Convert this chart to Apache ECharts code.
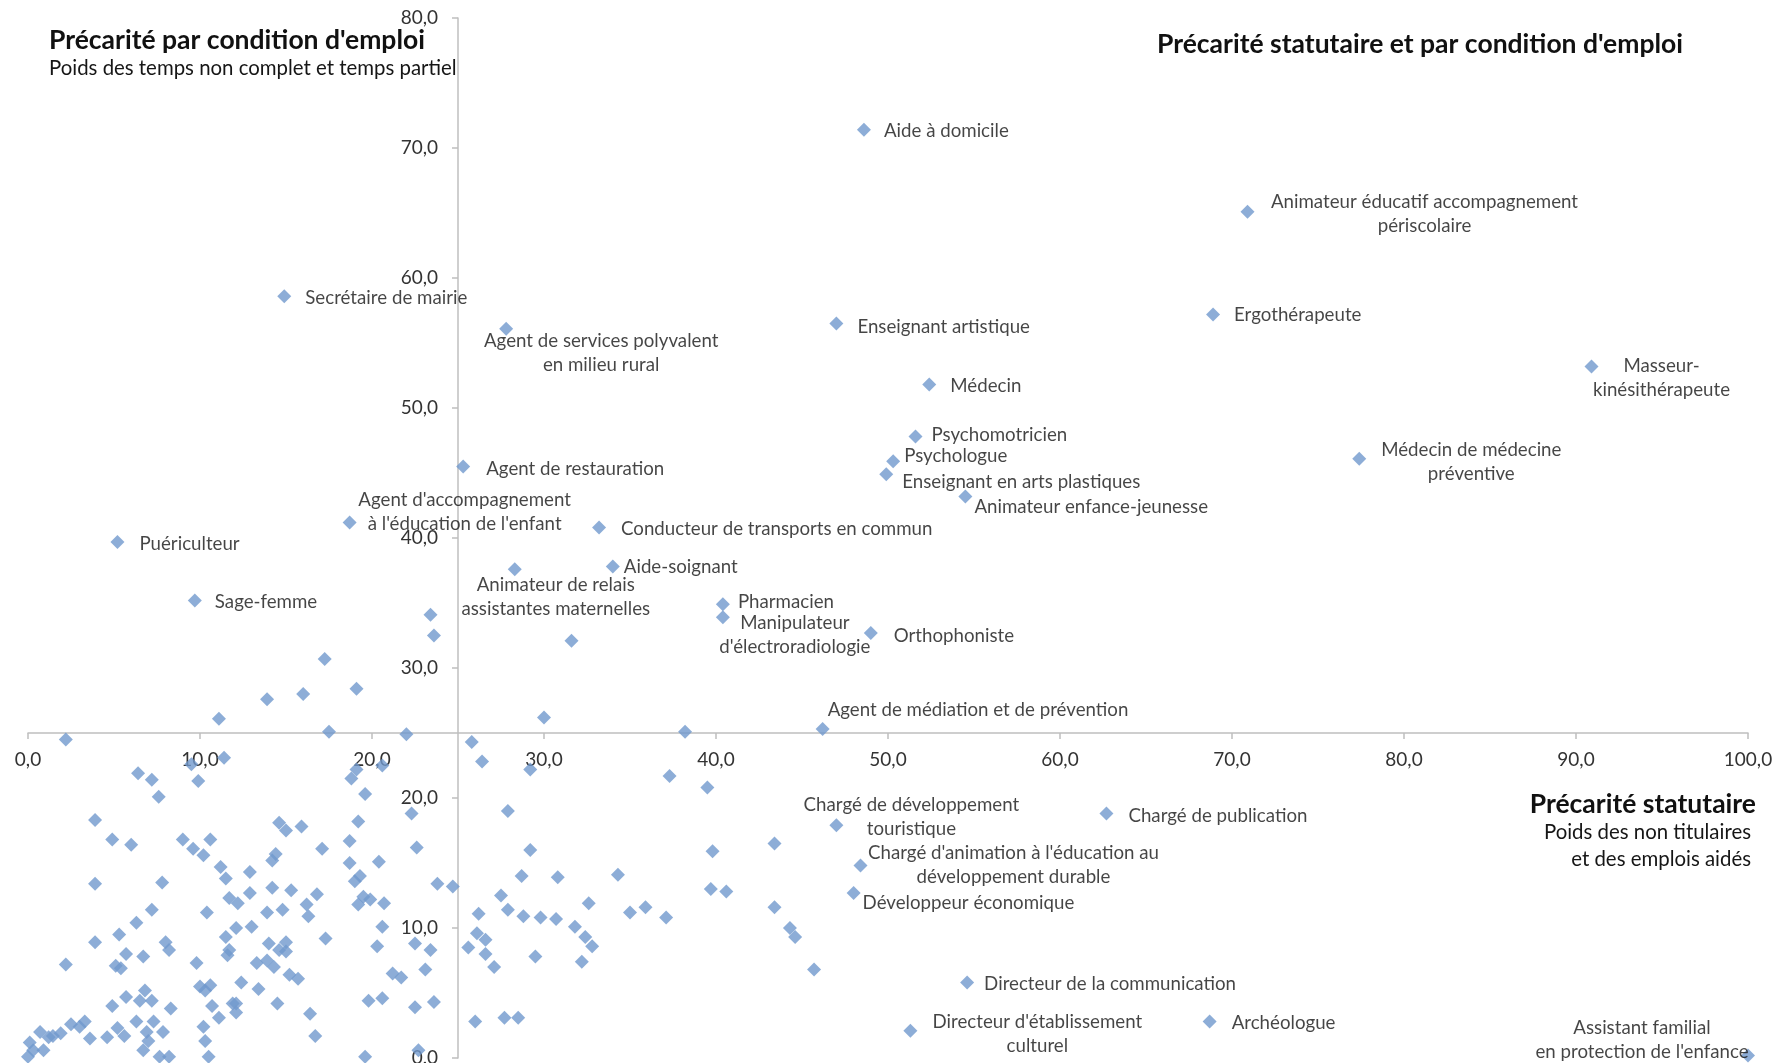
<!DOCTYPE html>
<html><head><meta charset="utf-8">
<script src="https://cdn.jsdelivr.net/npm/echarts@6/dist/echarts.min.js"></script>
<style>html,body{margin:0;padding:0;background:#fff}#c{width:1775px;height:1063px}</style>
</head><body><div id="c"></div>
<script>
// ---- Data ----
const xTickLabels = ['0,0','10,0','20,0','30,0','40,0','50,0','60,0','70,0','80,0','90,0','100,0'];
const yTickLabels = ['0,0','10,0','20,0','30,0','40,0','50,0','60,0','70,0','80,0'];

const labeledNames = [
  "Aide à domicile",
  "Animateur éducatif accompagnement\npériscolaire",
  "Secrétaire de mairie",
  "Agent de services polyvalent\nen milieu rural",
  "Enseignant artistique",
  "Ergothérapeute",
  "Masseur-\nkinésithérapeute",
  "Médecin",
  "Psychomotricien",
  "Psychologue",
  "Enseignant en arts plastiques",
  "Animateur enfance-jeunesse",
  "Médecin de médecine\npréventive",
  "Agent de restauration",
  "Agent d'accompagnement\nà l'éducation de l'enfant",
  "Conducteur de transports en commun",
  "Puériculteur",
  "Sage-femme",
  "Animateur de relais\nassistantes maternelles",
  "Aide-soignant",
  "Pharmacien",
  "Manipulateur\nd'électroradiologie",
  "Orthophoniste",
  "Agent de médiation et de prévention",
  "Chargé de développement\ntouristique",
  "Chargé de publication",
  "Chargé d'animation à l'éducation au\ndéveloppement durable",
  "Développeur économique",
  "Directeur de la communication",
  "Directeur d'établissement\nculturel",
  "Archéologue",
  "Assistant familial\nen protection de l'enfance"
];
const labeledX = [48.6,70.9,14.9,27.8,47.0,68.9,90.9,52.4,51.6,50.3,49.9,54.5,77.4,25.3,18.7,33.2,5.2,9.7,28.3,34.0,40.4,40.4,49.0,46.2,47.0,62.7,48.4,48.0,54.6,51.3,68.7,100.0];
const labeledY = [71.4,65.1,58.6,56.1,56.5,57.2,53.2,51.8,47.8,45.9,44.9,43.2,46.1,45.5,41.2,40.8,39.7,35.2,37.6,37.8,34.9,33.9,32.7,25.3,17.9,18.8,14.8,12.7,5.8,2.1,2.8,0.2];

const cloudX = [
 2.2,11.1,11.4,9.5,9.9,6.4,7.2,7.6,3.9,4.9,6.0,9.0,9.6,10.2,10.6,3.9,7.8,11.2,11.5,11.7,10.4,7.2,6.3,5.3,3.9,8.0,8.2,6.7,5.7,5.1,5.4,2.2,9.8,11.5,11.7,11.6,10.0,10.6,10.3,11.9,10.7,11.1,8.3,6.8,7.2,6.5,5.7,4.9,3.3,2.5,3.0,1.9,3.6,4.6,5.2,5.6,6.3,6.9,7.3,7.85,6.7,7.0,7.65,8.2,10.2,10.3,10.5,0.7,1.2,0.1,0.3,0.0,0.9,1.45,
 17.5,22.0,20.6,19.1,18.8,19.6,22.3,19.2,14.6,15.0,15.9,18.7,17.1,22.6,14.4,14.2,12.9,18.7,20.4,19.3,19.0,23.8,24.7,14.2,15.3,12.9,16.8,12.2,19.5,19.9,19.2,20.7,13.9,14.8,16.2,16.3,12.1,13.0,17.3,20.6,20.3,22.5,23.4,23.1,14.0,15.0,14.6,13.3,13.9,14.3,15.0,15.2,15.7,12.4,13.4,14.5,12.1,12.1,16.4,16.7,21.2,21.7,19.8,20.6,22.5,23.6,19.6,22.7,
 23.4,23.6,17.25,13.9,16.0,19.1,31.6,
 30.0,38.2,25.8,26.4,29.2,37.3,27.9,29.2,28.7,30.8,34.3,27.5,26.2,27.9,28.8,29.8,30.7,32.6,35.0,35.9,37.1,31.8,32.4,32.8,26.1,26.6,25.6,26.6,27.1,29.5,32.2,26.0,27.7,28.5,
 39.5,43.4,39.8,39.7,40.6,43.4,44.3,44.6,45.7
];
const cloudY = [
 24.5,26.1,23.1,22.6,21.3,21.9,21.4,20.1,18.3,16.8,16.4,16.8,16.1,15.6,16.8,13.4,13.5,14.7,13.8,12.3,11.2,11.4,10.4,9.5,8.9,8.9,8.3,7.8,8.0,7.1,6.9,7.2,7.3,9.3,8.3,7.9,5.5,5.6,5.2,4.2,4.0,3.1,3.8,5.2,4.4,4.4,4.7,4.0,2.8,2.6,2.4,1.9,1.5,1.6,2.3,1.7,2.8,2.0,2.8,2.0,0.6,1.3,0.1,0.1,2.4,1.3,0.1,2.0,1.6,1.2,0.6,0.1,0.6,1.7,
 25.1,24.9,22.5,22.2,21.5,20.3,18.8,18.2,18.1,17.5,17.8,16.7,16.1,16.2,15.7,15.2,14.3,15.0,15.1,14.0,13.6,13.4,13.2,13.1,12.9,12.7,12.6,11.9,12.4,12.2,11.8,11.9,11.2,11.4,11.8,10.9,10.0,10.1,9.2,10.1,8.6,8.8,8.3,6.8,8.8,8.9,8.3,7.3,7.5,7.0,8.2,6.4,6.1,5.8,5.3,4.2,4.2,3.5,3.4,1.7,6.5,6.2,4.4,4.6,3.9,4.3,0.1,0.6,
 34.1,32.5,30.7,27.6,28.0,28.4,32.1,
 26.2,25.1,24.3,22.8,22.2,21.7,19.0,16.0,14.0,13.9,14.1,12.5,11.1,11.4,10.9,10.8,10.7,11.9,11.2,11.6,10.8,10.1,9.3,8.6,9.6,9.1,8.5,8.0,7.0,7.8,7.4,2.8,3.1,3.1,
 20.8,16.5,15.9,13.0,12.8,11.6,10.0,9.3,6.8
];

// ---- Label placement (style, separate from data): [align, dx, dy] from the point centre ----
const labelPlace = [
 ['left',20,1],['center',177,2],['left',21,2],['center',95,24],['left',21,3],['left',21,1],['center',70,12],['left',21,1],
 ['left',16,-2],['left',11,-5],['left',16,8],['left',9,11],['center',112,3],['left',23,2],['center',115,-10],['left',22,1],
 ['left',22,2],['left',20,2],['center',41,28],['left',11,0],['left',15,-2],['center',72,18],['left',23,3],['left',5,-19],
 ['center',75,-8],['left',22,2],['center',153,-1],['left',9,10],['left',17,1],['center',127,3],['left',22,1],['center',-106,-15]
];

const FONT = 'Lato, "Open Sans", sans-serif';
const TXT = '#161616';
const PT = '#7098CD';
const SYM = 14;

const labeledData = labeledNames.map((n, i) => ({
  name: n,
  value: [labeledX[i], labeledY[i]],
  label: {
    show: true, formatter: n,
    position: [SYM / 2 + labelPlace[i][1], SYM / 2 + labelPlace[i][2]],
    align: labelPlace[i][0], verticalAlign: 'middle',
    color: TXT, fontFamily: FONT, fontSize: 18.7, lineHeight: 24
  }
}));
const cloudData = cloudX.map((x, i) => [x, cloudY[i]]);

const fmt = v => v.toFixed(1).replace('.', ',');
const W = 1775, H = 1063;
const GL = 28, GR = 27, GT = 18, GB = 5;
const X_MIN = 0, X_MAX = 100, Y_MIN = 0, Y_MAX = 80, CROSS_X = 25, CROSS_Y = 25;
// axes cross at (25, 25) as in the original: shift each axis inward by the scale's own proportion
const xAxisOffset = -((CROSS_Y - Y_MIN) / (Y_MAX - Y_MIN)) * (H - GT - GB);
const yAxisOffset = -((CROSS_X - X_MIN) / (X_MAX - X_MIN)) * (W - GL - GR);

const chart = echarts.init(document.getElementById('c'), null, {renderer: 'canvas'});
const option = {
  animation: false,
  backgroundColor: '#fff',
  grid: {left: GL, right: GR, top: GT, bottom: GB, containLabel: false, outerBoundsMode: 'none'},
  xAxis: {
    type: 'value', min: X_MIN, max: X_MAX, interval: 10, position: 'bottom', offset: xAxisOffset,
    axisLine: {show: true, onZero: false, lineStyle: {color: '#BFBFBF', width: 1.5}},
    axisTick: {show: true, length: 6, lineStyle: {color: '#BFBFBF', width: 1.5}},
    axisLabel: {margin: 17, fontSize: 19, color: '#333', fontFamily: FONT, formatter: fmt},
    splitLine: {show: false}
  },
  yAxis: {
    type: 'value', min: Y_MIN, max: Y_MAX, interval: 10, position: 'left', offset: yAxisOffset,
    axisLine: {show: true, onZero: false, lineStyle: {color: '#BFBFBF', width: 1.5}},
    axisTick: {show: true, length: 6, lineStyle: {color: '#BFBFBF', width: 1.5}},
    axisLabel: {margin: 20, fontSize: 19, color: '#333', fontFamily: FONT, formatter: fmt},
    splitLine: {show: false}
  },
  graphic: [
    {type: 'text', z: 100, x: 49, y: 40, style: {text: "Précarité par condition d'emploi", fontFamily: FONT, fontSize: 26.5, fontWeight: 'bold', fill: '#111', align: 'left', verticalAlign: 'middle'}},
    {type: 'text', z: 100, x: 49, y: 68, style: {text: "Poids des temps non complet et temps partiel", fontFamily: FONT, fontSize: 20.4, fill: TXT, align: 'left', verticalAlign: 'middle'}},
    {type: 'text', z: 100, x: 1157, y: 44, style: {text: "Précarité statutaire et par condition d'emploi", fontFamily: FONT, fontSize: 26.5, fontWeight: 'bold', fill: '#111', align: 'left', verticalAlign: 'middle'}},
    {type: 'text', z: 100, x: 1756, y: 804, style: {text: "Précarité statutaire", fontFamily: FONT, fontSize: 26.5, fontWeight: 'bold', fill: '#111', align: 'right', verticalAlign: 'middle'}},
    {type: 'text', z: 100, x: 1751, y: 832, style: {text: "Poids des non titulaires", fontFamily: FONT, fontSize: 20.4, fill: TXT, align: 'right', verticalAlign: 'middle'}},
    {type: 'text', z: 100, x: 1751, y: 859, style: {text: "et des emplois aidés", fontFamily: FONT, fontSize: 20.4, fill: TXT, align: 'right', verticalAlign: 'middle'}}
  ],
  series: [
    {type: 'scatter', name: 'autres', symbol: 'diamond', symbolSize: SYM, clip: false,
     itemStyle: {color: PT}, data: cloudData, z: 2},
    {type: 'scatter', name: 'libellés', symbol: 'diamond', symbolSize: SYM, clip: false,
     itemStyle: {color: PT}, data: labeledData, z: 3}
  ]
};
chart.setOption(option);
</script></body></html>
